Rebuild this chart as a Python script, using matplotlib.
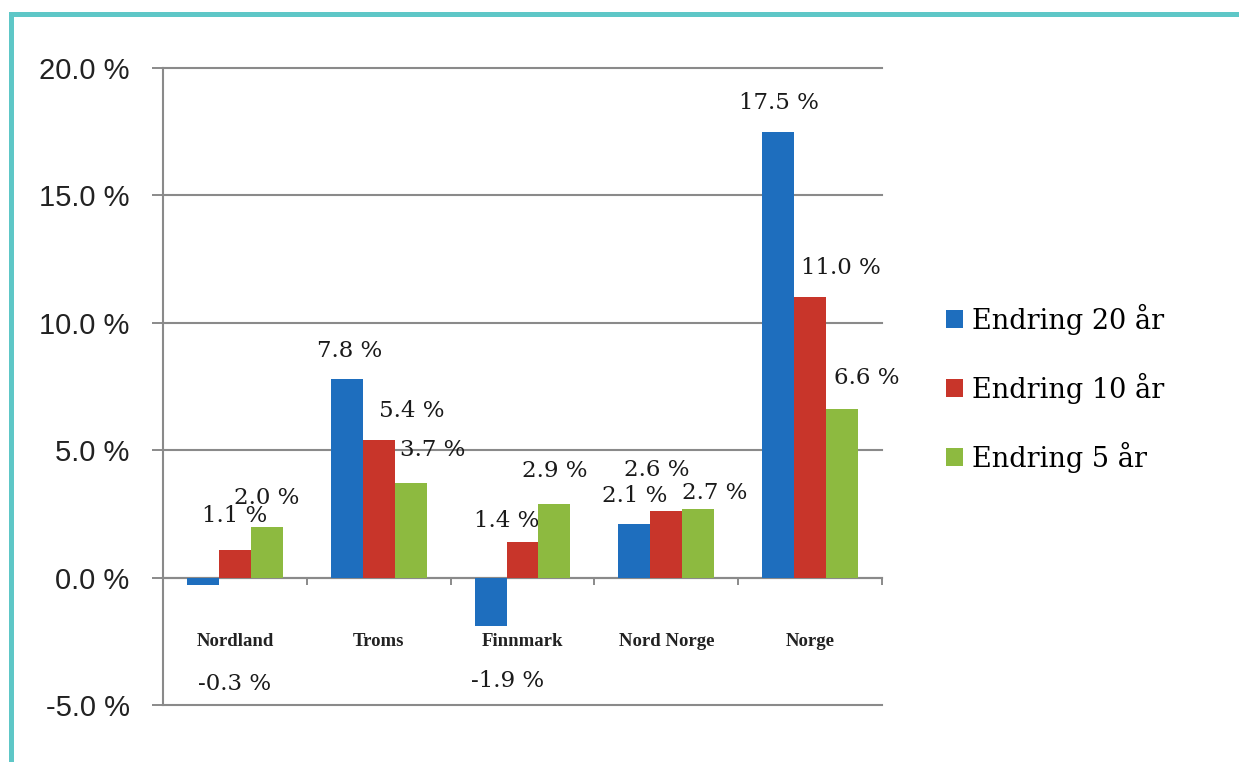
import numpy as np
import matplotlib.pyplot as plt
from matplotlib.patches import Rectangle

categories = ['Nordland', 'Troms', 'Finnmark', 'Nord Norge', 'Norge']
series_names = ['Endring 20 år', 'Endring 10 år', 'Endring 5 år']
endring_20 = [-0.3, 7.8, -1.9, 2.1, 17.5]
endring_10 = [1.1, 5.4, 1.4, 2.6, 11.0]
endring_5 = [2.0, 3.7, 2.9, 2.7, 6.6]
y_ticks = [-5, 0, 5, 10, 15, 20]

colors = ['#1E6EBE', '#C8352A', '#8DBA40']

# label nudges in pixels (dx right, dy down) relative to bar end, like the original
label_offsets = [
    [(32, 99), (3, -28), (17, 55), (0, -28), (1, -29)],
    [(0, -34), (33, -29), (-16, -21), (-10, -41), (31, -29)],
    [(0, -29), (22, -33), (0, -33), (16, -16), (25, -31)],
]

W, H = 1239, 762
fig = plt.figure(figsize=(W / 100, H / 100), dpi=100)
ax = fig.add_axes([163 / W, 1 - 705 / H, (882 - 163) / W, (705 - 68) / H])

x = np.arange(len(categories))
bw = 0.222
all_series = [endring_20, endring_10, endring_5]
for i, (vals, name, c) in enumerate(zip(all_series, series_names, colors)):
    pos = x + (i - 1) * bw
    ax.bar(pos, vals, width=bw, color=c, label=name, zorder=3)
    for xp, v, (dx, dy) in zip(pos, vals, label_offsets[i]):
        ax.annotate(f'{v:.1f} %', xy=(xp, v), xytext=(dx * 0.72, -dy * 0.72),
                    textcoords='offset points', ha='center', va='center',
                    fontsize=16.5, family='DejaVu Serif', color='#1a1a1a')

ax.set_xlim(-0.5, len(categories) - 0.5)
ax.set_ylim(-5, 20)
ax.set_yticks(y_ticks)
ax.set_yticklabels([f'{t:.1f} %' for t in y_ticks])
ax.tick_params(axis='y', length=8, width=1.4, color='#8a8a8a', pad=16,
               labelsize=21, labelcolor='#222222')
for lab in ax.get_yticklabels():
    lab.set_family('Liberation Sans')

ax.yaxis.grid(True, color='#8a8a8a', linewidth=1.5, zorder=0)
for gl in ax.get_ygridlines():
    gl.set_clip_on(False)
ax.set_axisbelow(True)

for s in ['top', 'right']:
    ax.spines[s].set_visible(False)
ax.spines['left'].set_color('#8a8a8a')
ax.spines['left'].set_linewidth(1.5)
ax.spines['bottom'].set_position(('data', 0))
ax.spines['bottom'].set_color('#8a8a8a')
ax.spines['bottom'].set_linewidth(1.5)

ax.set_xticks(x)
ax.set_xticklabels(categories)
ax.set_xticks(np.arange(len(categories) + 1) - 0.5, minor=True)
ax.tick_params(axis='x', which='major', length=0, pad=40, labelsize=13.5,
               labelcolor='#222222')
ax.tick_params(axis='x', which='minor', length=5, width=1.4, color='#8a8a8a',
               direction='out')
for lab in ax.get_xticklabels():
    lab.set_family('Liberation Serif')
    lab.set_fontweight('bold')

ax.legend(loc='center left', bbox_to_anchor=(946 / W, 1 - 388 / H),
          bbox_transform=fig.transFigure, frameon=False, borderpad=0,
          borderaxespad=0, handlelength=0.62, handleheight=0.62,
          handletextpad=0.35, labelspacing=1.4,
          prop={'family': 'DejaVu Serif', 'size': 19.5})

# teal frame on top and left
fig.add_artist(Rectangle((10.5 / W, -0.1), 2, 0.1 + 1 - 14 / H,
                         transform=fig.transFigure, fill=False,
                         edgecolor='#5EC7C7', linewidth=3.6, clip_on=False))

fig.savefig('out.png', dpi=100)
